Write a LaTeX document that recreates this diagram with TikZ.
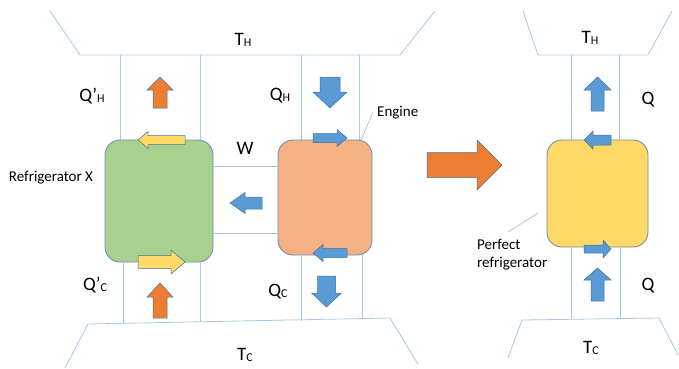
\documentclass[tikz,border=0pt]{standalone}
\usepackage{fontspec}
\setmainfont{Carlito}
\definecolor{pipe}{HTML}{A9C8E6}
\definecolor{edgeblue}{HTML}{6F8FAF}
\definecolor{arrblue}{HTML}{5B9BD5}
\definecolor{arredge}{HTML}{41719C}
\definecolor{arrorange}{HTML}{ED7D31}
\definecolor{arryellow}{HTML}{FFD966}
\definecolor{fridgegreen}{HTML}{A9D18E}
\definecolor{enginepeach}{HTML}{F4B183}
\definecolor{perfectyellow}{HTML}{FFD966}
\newcommand\lowsub[1]{\raisebox{-0.8pt}{\fontsize{12}{12}\selectfont #1}}
\begin{document}
\begin{tikzpicture}[x=1pt,y=-1pt,
  wire/.style={draw=pipe, line width=0.8pt},
  unit/.style={draw=edgeblue, line width=0.9pt, rounded corners=15pt, inner sep=0pt},
  big/.style={font=\fontsize{19}{22}\selectfont, inner sep=0pt},
  small/.style={font=\fontsize{15}{18}\selectfont, inner sep=0pt},
  flowblue/.style={fill=arrblue, draw=arredge, line width=0.5pt},
  floworange/.style={fill=arrorange, draw=arredge, line width=0.5pt},
  flowyellow/.style={fill=arryellow, draw=arredge, line width=0.5pt},
  % block arrow pointing along +x: length/head length/shaft half-width/head half-width
  pics/barrow/.style args={#1/#2/#3/#4}{code={
    \path[pic actions] (0,-#3) -- (#1-#2,-#3) -- (#1-#2,-#4) -- (#1,0)
      -- (#1-#2,#4) -- (#1-#2,#3) -- (0,#3) -- cycle;}}]
\useasboundingbox (0,0) rectangle (679,368);

% heat reservoirs
\draw[wire] (50,11) -- (80,55) -- (400,55) -- (435,11);
\draw[wire] (65,368) -- (88,324) -- (390,318) -- (418,364);
\draw[wire] (523,11) -- (538,55) -- (648,55) -- (672,11);
\draw[wire] (508,358) -- (522,320) -- (659,318) -- (678,355);

% machines
\node[unit, fill=fridgegreen, minimum width=108pt, minimum height=122pt] (fridgeX) at (159,201) {};
\node[unit, fill=enginepeach, minimum width=94pt, minimum height=115pt] (engine) at (325,197.5) {};
\node[unit, fill=perfectyellow, minimum width=101pt, minimum height=107pt] (perfect) at (597.5,193.5) {};

% heat pipes
\draw[wire] (120,55) -- (120,140);
\draw[wire] (200,55) -- (200,140);
\draw[wire] (123,262) -- (123,323);
\draw[wire] (200,262) -- (200,322);
\draw[wire] (301,55) -- (301,140);
\draw[wire] (359,55) -- (359,140);
\draw[wire] (301,255) -- (301,321);
\draw[wire] (362,255) -- (362,319);
\draw[wire] (571,55) -- (571,140);
\draw[wire] (619,55) -- (619,140);
\draw[wire] (571,247) -- (571,319);
\draw[wire] (620,247) -- (620,318);

% work link
\draw[wire] (fridgeX.east |- 0,166) -- (engine.west |- 0,166);
\draw[wire] (fridgeX.east |- 0,233) -- (engine.west |- 0,233);

% leaders
\draw[wire] (373,112) -- (361,140);
\draw[wire] (508,232) -- (538,213);

% flow arrows
\pic[floworange, rotate=90] at (160,108) {barrow=31/13/7/13};
\pic[flowblue, rotate=-90] at (330,77) {barrow=31/16/10/17};
\pic[floworange, rotate=90] at (160,318) {barrow=35/14/7/13};
\pic[flowblue, rotate=-90] at (326.5,276) {barrow=31/14/9/15};
\pic[flowblue, rotate=180] at (262,203) {barrow=32/15/6/10.5};
\pic[flowyellow, rotate=180] at (185,140) {barrow=47/10/4.5/8.5};
\pic[flowyellow] at (138,262) {barrow=47/14/6.5/12};
\pic[flowblue] at (313,138) {barrow=34/10/4.5/8.5};
\pic[flowblue, rotate=180] at (347,253) {barrow=34/10/4.5/8.5};
\pic[floworange] at (427,165) {barrow=75/25/12.5/25};
\pic[flowblue, rotate=180] at (611,140) {barrow=27/9/5/9};
\pic[flowblue] at (584,249) {barrow=27/8/4/9};
\pic[flowblue, rotate=90] at (597.5,111) {barrow=34/13/6.5/13.5};
\pic[flowblue, rotate=90] at (597.5,301) {barrow=33/12/6.5/13.5};

% labels
\node[big] (thl) at (243,40) {T\lowsub{H}};
\node[big] (tcl) at (245,355) {T\lowsub{C}};
\node[big] (thr) at (590,38) {T\lowsub{H}};
\node[big] (tcr) at (591,348) {T\lowsub{C}};
\node[big] (qhp) at (92,96) {Q’\lowsub{H}};
\node[big] (qh) at (280,96) {Q\lowsub{H}};
\node[big] (qcp) at (95,285) {Q’\lowsub{C}};
\node[big] (qc) at (278,292) {Q\lowsub{C}};
\node[big] (w) at (245,148) {W};
\node[big] (qtop) at (648,100) {Q};
\node[big] (qbot) at (648,286) {Q};
\node[small] (xlabel) at (51,178) {Refrigerator X};
\node[small, anchor=west] (elabel) at (377,113) {Engine};
\node[small, anchor=north west, align=left] (plabel) at (477,239) {Perfect\\refrigerator};
\end{tikzpicture}
\end{document}
